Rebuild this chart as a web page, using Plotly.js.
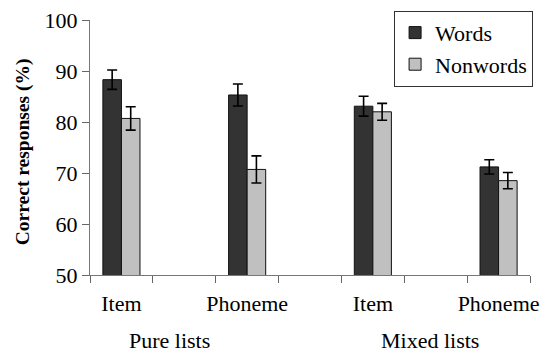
<!DOCTYPE html>
<html>
<head>
<meta charset="utf-8">
<script src="https://cdn.plot.ly/plotly-3.0.1.min.js"></script>
<style>html,body{margin:0;padding:0;background:#fff;}#chart{width:553px;height:357px;}</style>
</head>
<body>
<div id="chart"></div>
<script>
// Category slots (gaps between conditions are empty slots)
const categories = ['pure-item', 'gap1', 'pure-phoneme', 'gap2', 'mixed-item', 'gap3', 'mixed-phoneme'];
const tickLabels = ['Item', '', 'Phoneme', '', 'Item', '', 'Phoneme'];
const barCategories = ['pure-item', 'pure-phoneme', 'mixed-item', 'mixed-phoneme'];
const groupLabels = ['Pure lists', 'Mixed lists'];
const yTitle = 'Correct responses (%)';
const seriesNames = ['Words', 'Nonwords'];
const wordsValues = [88.3, 85.3, 83.1, 71.2];
const wordsErrors = [1.9, 2.15, 1.95, 1.4];
const nonwordsValues = [80.7, 70.7, 82.0, 68.5];
const nonwordsErrors = [2.3, 2.65, 1.65, 1.6];

const FONT = '"Liberation Serif", "Times New Roman", Times, serif';
const FS = 22;

const traces = [
  {
    type: 'bar', name: seriesNames[0], x: barCategories, y: wordsValues,
    marker: {color: '#333333', line: {color: '#111111', width: 1}},
    error_y: {type: 'data', array: wordsErrors, visible: true, color: '#000', thickness: 1.6, width: 5}
  },
  {
    type: 'bar', name: seriesNames[1], x: barCategories, y: nonwordsValues,
    marker: {color: '#c0c0c0', line: {color: '#111111', width: 1}},
    error_y: {type: 'data', array: nonwordsErrors, visible: true, color: '#000', thickness: 1.6, width: 5}
  }
];

const layout = {
  width: 553, height: 357,
  margin: {l: 90, r: 23, t: 19, b: 82},
  paper_bgcolor: '#fff', plot_bgcolor: '#fff',
  font: {family: FONT, size: FS, color: '#000'},
  barmode: 'group', bargap: 0.41, bargroupgap: 0,
  showlegend: true,
  legend: {
    x: 1.007, xanchor: 'right', y: 1.032, yanchor: 'top',
    bgcolor: '#fff', bordercolor: '#333', borderwidth: 1,
    font: {family: FONT, size: FS, color: '#000'}
  },
  xaxis: {
    type: 'category', categoryorder: 'array', categoryarray: categories,
    tickmode: 'array', tickvals: categories, ticktext: tickLabels,
    range: [-0.5, 6.5], tickson: 'boundaries', tickangle: 0,
    ticks: 'outside', ticklen: 7, tickcolor: '#666', tickwidth: 1,
    ticklabelstandoff: 9,
    showline: true, linecolor: '#777', linewidth: 1,
    showgrid: false, zeroline: false, fixedrange: true,
    tickfont: {family: FONT, size: FS, color: '#000'}
  },
  yaxis: {
    range: [50, 100], tickmode: 'linear', tick0: 50, dtick: 10,
    ticks: 'outside', ticklen: 7, tickcolor: '#666', tickwidth: 1,
    showline: true, linecolor: '#777', linewidth: 1,
    showgrid: false, zeroline: false, fixedrange: true,
    tickfont: {family: FONT, size: FS, color: '#000'}
  },
  annotations: [
    {text: groupLabels[0], xref: 'paper', yref: 'paper', x: 0.181, y: -0.312, xanchor: 'center', yanchor: 'bottom', showarrow: false, font: {family: FONT, size: FS, color: '#000'}},
    {text: groupLabels[1], xref: 'paper', yref: 'paper', x: 0.772, y: -0.312, xanchor: 'center', yanchor: 'bottom', showarrow: false, font: {family: FONT, size: FS, color: '#000'}},
    {text: '<b>' + yTitle + '</b>', xref: 'paper', yref: 'paper', x: -0.152, y: 0.482, xanchor: 'center', yanchor: 'middle', textangle: -90, showarrow: false, font: {family: FONT, size: 19.5, color: '#000'}}
  ]
};

Plotly.newPlot('chart', traces, layout, {displayModeBar: false, staticPlot: true});
</script>
</body>
</html>
